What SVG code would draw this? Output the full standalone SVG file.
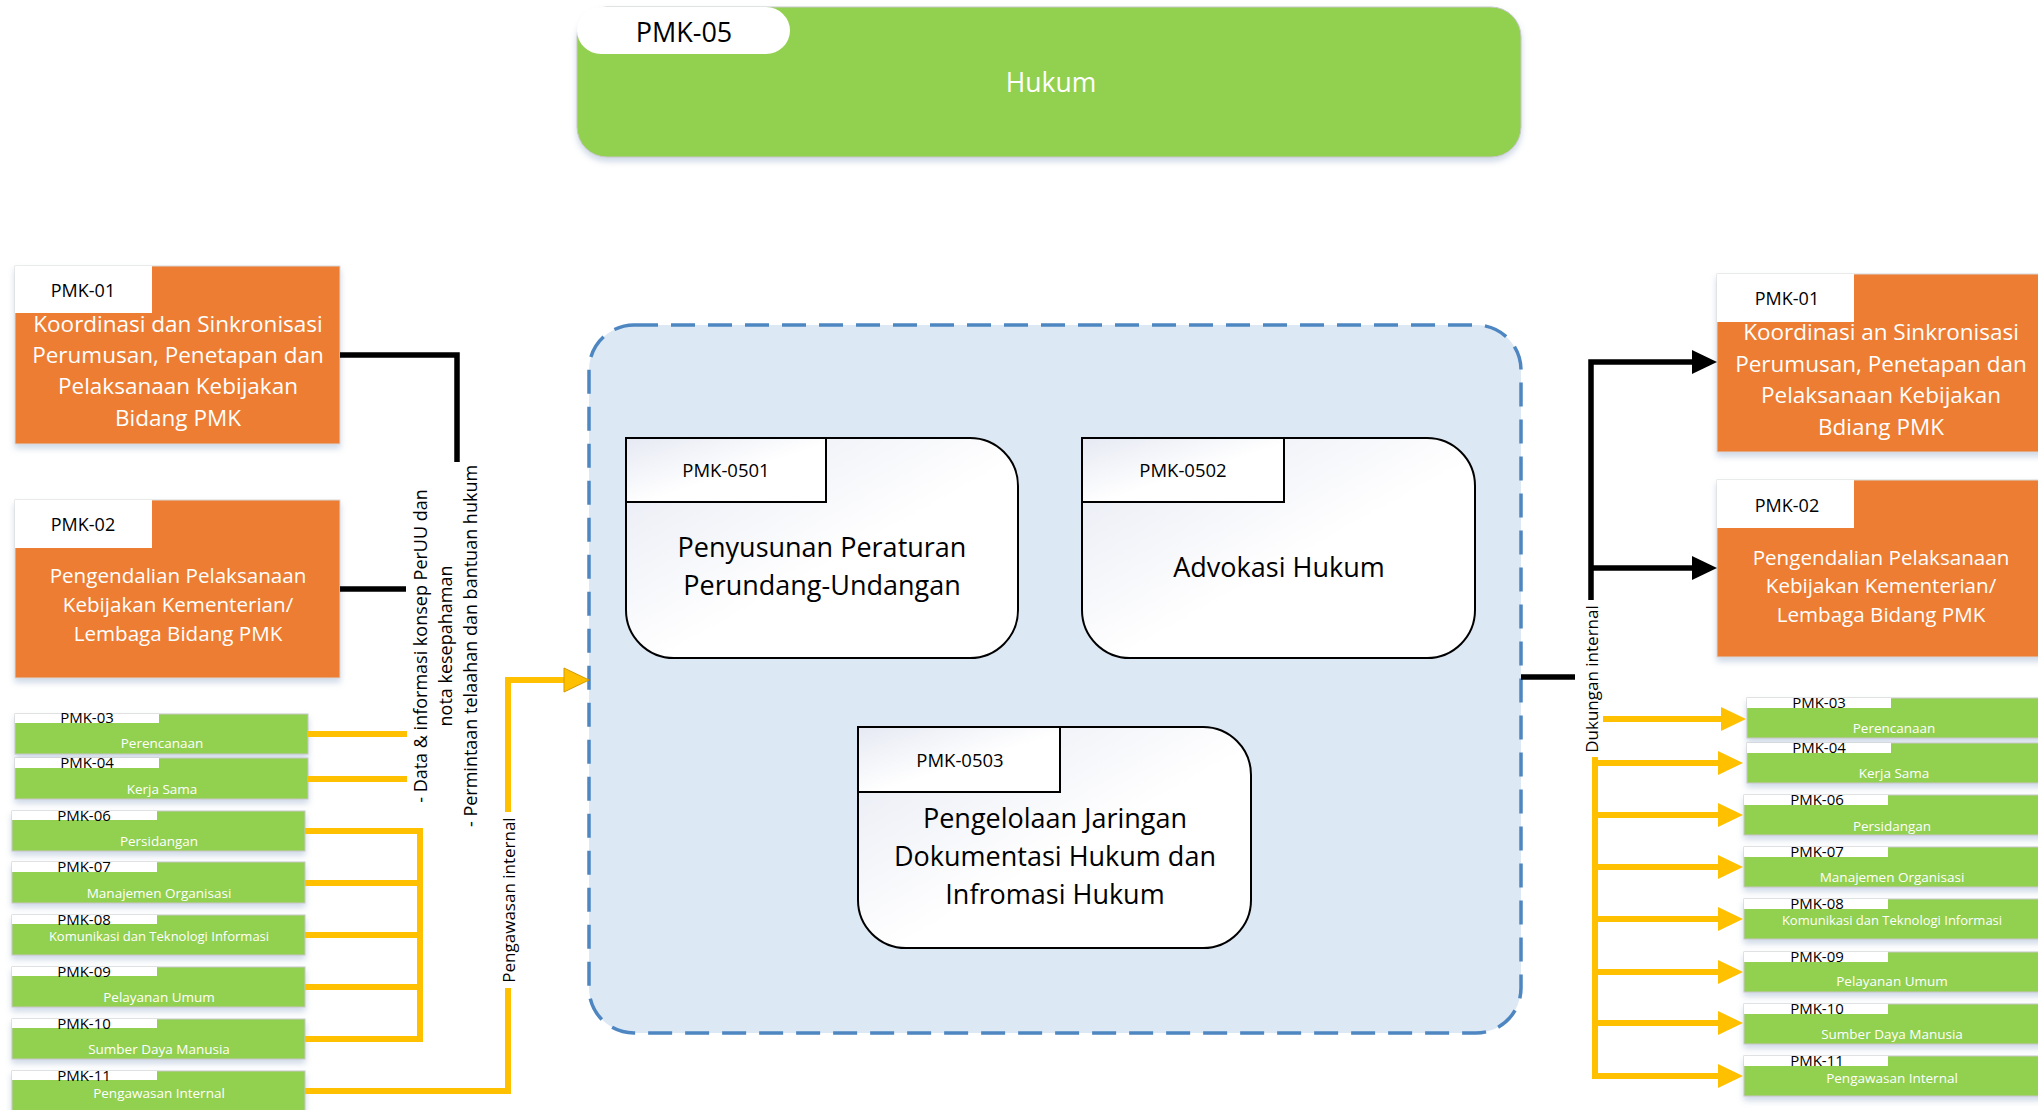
<svg xmlns="http://www.w3.org/2000/svg" width="2038" height="1110" viewBox="0 0 2038 1110">
<style>
text{font-family:"Open Sans","Liberation Sans",sans-serif;}
.w{fill:#fff}
.k{fill:#000}
.org{fill:#ED7D31;stroke:#D9D9D9;stroke-width:1}
.grn{fill:#92D050;stroke:#C8C8C8;stroke-width:1}
.tab{fill:#fff}
.yl{stroke:#FFC000;stroke-width:6;fill:none}
.bl{stroke:#000;stroke-width:5.5;fill:none}
.sub{fill:url(#gf);stroke:#000;stroke-width:2}
.big1{font-size:22.5px;text-anchor:middle}
.big2{font-size:20.6px;text-anchor:middle}
.lbl{font-size:15px;text-anchor:middle}
.lblb{font-size:18px;text-anchor:middle}
.sm{font-size:13.5px;text-anchor:middle}
.sm2{font-size:13px;text-anchor:middle}
.in{font-size:27px;text-anchor:middle}
.mid{text-anchor:middle}
</style>
<defs>
<filter id="sh" x="-5%" y="-10%" width="110%" height="140%"><feDropShadow dx="0" dy="4" stdDeviation="3" flood-color="#8FA8C8" flood-opacity="0.45"/></filter>
<linearGradient id="gf" x1="0" y1="0" x2="1" y2="1"><stop offset="0" stop-color="#E6E9F3"/><stop offset="0.55" stop-color="#FFFFFF"/></linearGradient>
<marker id="ay" markerUnits="userSpaceOnUse" viewBox="0 0 25 24" markerWidth="25" markerHeight="24" refX="0" refY="12" orient="auto"><path d="M0,0 L25,12 L0,24 Z" fill="#FFC000"/></marker>
<marker id="ay2" markerUnits="userSpaceOnUse" viewBox="-1 -1 27 26" markerWidth="27" markerHeight="26" refX="0" refY="12" orient="auto"><path d="M0,0 L25,12 L0,24 Z" fill="#FFC000" stroke="#D49A00" stroke-width="1"/></marker>
<marker id="ab" markerUnits="userSpaceOnUse" viewBox="0 0 25 24" markerWidth="25" markerHeight="24" refX="0" refY="12" orient="auto"><path d="M0,0 L25,12 L0,24 Z" fill="#000"/></marker>
</defs>
<rect width="2038" height="1110" fill="#fff"/>

<!-- Top -->
<g id="pmk05">
<rect x="577" y="7" width="944" height="150" rx="30" fill="#92D050" stroke="#C8C8C8" stroke-width="1" filter="url(#sh)"/>
<rect x="577" y="7" width="213" height="47" rx="24" fill="#fff"/>
<text x="684" y="42" font-size="27" class="k mid">PMK-05</text>
<text x="1051" y="92" font-size="26.5" class="w mid">Hukum</text>
</g>

<!-- Container -->
<g id="container">
<rect x="589" y="325" width="932" height="708" rx="45" fill="#DDE8F5" stroke="#4D86C1" stroke-width="3.5" stroke-dasharray="24 13"/>
</g>

<g id="pmk0501">
<path class="sub" d="M626,438 H970 A48,48 0 0 1 1018,486 V610 A48,48 0 0 1 970,658 H674 A48,48 0 0 1 626,610 Z"/>
<rect class="sub" x="626" y="438" width="200" height="64"/>
<text x="726" y="477" font-size="18.5" class="k mid">PMK-0501</text>
<text x="822" y="557" class="k in">Penyusunan Peraturan</text>
<text x="822" y="595" class="k in">Perundang-Undangan</text>
</g>

<g id="pmk0502">
<path class="sub" d="M1082,438 H1427 A48,48 0 0 1 1475,486 V610 A48,48 0 0 1 1427,658 H1130 A48,48 0 0 1 1082,610 Z"/>
<rect class="sub" x="1082" y="438" width="202" height="64"/>
<text x="1183" y="477" font-size="18.5" class="k mid">PMK-0502</text>
<text x="1279" y="577" class="k in">Advokasi Hukum</text>
</g>

<g id="pmk0503">
<path class="sub" d="M858,727 H1203 A48,48 0 0 1 1251,775 V900 A48,48 0 0 1 1203,948 H906 A48,48 0 0 1 858,900 Z"/>
<rect class="sub" x="858" y="727" width="202" height="65"/>
<text x="960" y="767" font-size="18.5" class="k mid">PMK-0503</text>
<text x="1055" y="828" class="k in">Pengelolaan Jaringan</text>
<text x="1055" y="866" class="k in">Dokumentasi Hukum dan</text>
<text x="1055" y="904" class="k in">Infromasi Hukum</text>
</g>

<!-- Left big -->
<g id="l-pmk01">
<rect class="org" x="15" y="266" width="325" height="178" filter="url(#sh)"/>
<rect class="tab" x="15" y="266" width="137" height="47"/>
<text x="83" y="297" class="lblb k">PMK-01</text>
<text x="178" y="332" class="big1 w">Koordinasi dan Sinkronisasi</text>
<text x="178" y="363" class="big1 w">Perumusan, Penetapan dan</text>
<text x="178" y="394" class="big1 w">Pelaksanaan Kebijakan</text>
<text x="178" y="426" class="big1 w">Bidang PMK</text>
</g>
<g id="l-pmk02">
<rect class="org" x="15" y="500" width="325" height="178" filter="url(#sh)"/>
<rect class="tab" x="15" y="500" width="137" height="48"/>
<text x="83" y="531" class="lblb k">PMK-02</text>
<text x="178" y="583" class="big2 w">Pengendalian Pelaksanaan</text>
<text x="178" y="612" class="big2 w">Kebijakan Kementerian/</text>
<text x="178" y="641" class="big2 w">Lembaga Bidang PMK</text>
</g>

<!-- Left small -->
<g id="l-pmk03"><rect class="grn" x="15" y="714" width="293" height="40" filter="url(#sh)"/><rect class="tab" x="15" y="714" width="144" height="9"/><text x="87" y="723" class="lbl k">PMK-03</text><text x="162" y="748" class="sm w">Perencanaan</text></g>
<g id="l-pmk04"><rect class="grn" x="15" y="758" width="293" height="41" filter="url(#sh)"/><rect class="tab" x="15" y="758" width="144" height="10"/><text x="87" y="768" class="lbl k">PMK-04</text><text x="162" y="794" class="sm w">Kerja Sama</text></g>
<g id="l-pmk06"><rect class="grn" x="12" y="811" width="293" height="40" filter="url(#sh)"/><rect class="tab" x="12" y="811" width="145" height="9"/><text x="84" y="821" class="lbl k">PMK-06</text><text x="159" y="846" class="sm w">Persidangan</text></g>
<g id="l-pmk07"><rect class="grn" x="12" y="862" width="293" height="41" filter="url(#sh)"/><rect class="tab" x="12" y="862" width="145" height="10"/><text x="84" y="872" class="lbl k">PMK-07</text><text x="159" y="898" class="sm w">Manajemen Organisasi</text></g>
<g id="l-pmk08"><rect class="grn" x="12" y="915" width="293" height="40" filter="url(#sh)"/><rect class="tab" x="12" y="915" width="145" height="9"/><text x="84" y="925" class="lbl k">PMK-08</text><text x="159" y="941" class="sm2 w">Komunikasi dan Teknologi Informasi</text></g>
<g id="l-pmk09"><rect class="grn" x="12" y="967" width="293" height="40" filter="url(#sh)"/><rect class="tab" x="12" y="967" width="145" height="9"/><text x="84" y="977" class="lbl k">PMK-09</text><text x="159" y="1002" class="sm w">Pelayanan Umum</text></g>
<g id="l-pmk10"><rect class="grn" x="12" y="1019" width="293" height="40" filter="url(#sh)"/><rect class="tab" x="12" y="1019" width="145" height="9"/><text x="84" y="1029" class="lbl k">PMK-10</text><text x="159" y="1054" class="sm w">Sumber Daya Manusia</text></g>
<g id="l-pmk11"><rect class="grn" x="12" y="1071" width="293" height="45" filter="url(#sh)"/><rect class="tab" x="12" y="1071" width="145" height="9"/><text x="84" y="1081" class="lbl k">PMK-11</text><text x="159" y="1098" class="sm w">Pengawasan Internal</text></g>

<!-- Right big -->
<g id="r-pmk01">
<rect class="org" x="1717" y="274" width="330" height="178" filter="url(#sh)"/>
<rect class="tab" x="1717" y="274" width="137" height="48"/>
<text x="1787" y="305" class="lblb k">PMK-01</text>
<text x="1881" y="340" class="big1 w">Koordinasi an Sinkronisasi</text>
<text x="1881" y="372" class="big1 w">Perumusan, Penetapan dan</text>
<text x="1881" y="403" class="big1 w">Pelaksanaan Kebijakan</text>
<text x="1881" y="435" class="big1 w">Bdiang PMK</text>
</g>
<g id="r-pmk02">
<rect class="org" x="1717" y="480" width="330" height="177" filter="url(#sh)"/>
<rect class="tab" x="1717" y="480" width="137" height="48"/>
<text x="1787" y="512" class="lblb k">PMK-02</text>
<text x="1881" y="565" class="big2 w">Pengendalian Pelaksanaan</text>
<text x="1881" y="593" class="big2 w">Kebijakan Kementerian/</text>
<text x="1881" y="622" class="big2 w">Lembaga Bidang PMK</text>
</g>

<!-- Right small -->
<g id="r-pmk03"><rect class="grn" x="1747" y="698" width="300" height="40" filter="url(#sh)"/><rect class="tab" x="1747" y="698" width="144" height="10"/><text x="1819" y="708" class="lbl k">PMK-03</text><text x="1894" y="733" class="sm w">Perencanaan</text></g>
<g id="r-pmk04"><rect class="grn" x="1747" y="743" width="300" height="40" filter="url(#sh)"/><rect class="tab" x="1747" y="743" width="144" height="10"/><text x="1819" y="753" class="lbl k">PMK-04</text><text x="1894" y="778" class="sm w">Kerja Sama</text></g>
<g id="r-pmk06"><rect class="grn" x="1744" y="795" width="303" height="40" filter="url(#sh)"/><rect class="tab" x="1744" y="795" width="144" height="10"/><text x="1817" y="805" class="lbl k">PMK-06</text><text x="1892" y="831" class="sm w">Persidangan</text></g>
<g id="r-pmk07"><rect class="grn" x="1744" y="847" width="303" height="40" filter="url(#sh)"/><rect class="tab" x="1744" y="847" width="144" height="10"/><text x="1817" y="857" class="lbl k">PMK-07</text><text x="1892" y="882" class="sm w">Manajemen Organisasi</text></g>
<g id="r-pmk08"><rect class="grn" x="1744" y="899" width="303" height="40" filter="url(#sh)"/><rect class="tab" x="1744" y="899" width="144" height="10"/><text x="1817" y="909" class="lbl k">PMK-08</text><text x="1892" y="925" class="sm2 w">Komunikasi dan Teknologi Informasi</text></g>
<g id="r-pmk09"><rect class="grn" x="1744" y="952" width="303" height="40" filter="url(#sh)"/><rect class="tab" x="1744" y="952" width="144" height="10"/><text x="1817" y="962" class="lbl k">PMK-09</text><text x="1892" y="986" class="sm w">Pelayanan Umum</text></g>
<g id="r-pmk10"><rect class="grn" x="1744" y="1004" width="303" height="40" filter="url(#sh)"/><rect class="tab" x="1744" y="1004" width="144" height="10"/><text x="1817" y="1014" class="lbl k">PMK-10</text><text x="1892" y="1039" class="sm w">Sumber Daya Manusia</text></g>
<g id="r-pmk11"><rect class="grn" x="1744" y="1056" width="303" height="40" filter="url(#sh)"/><rect class="tab" x="1744" y="1056" width="144" height="10"/><text x="1817" y="1066" class="lbl k">PMK-11</text><text x="1892" y="1083" class="sm w">Pengawasan Internal</text></g>

<!-- Connectors -->
<g id="connectors">
<path class="bl" d="M340,355 H457 V462"/>
<path class="bl" d="M340,589 H406"/>
<path class="yl" d="M308,734 H407"/>
<path class="yl" d="M308,779 H407"/>
<path class="yl" d="M305,831 H420 M305,883 H420 M305,935 H420 M305,987 H420 M305,1039 H420"/>
<path class="yl" d="M420,828 V1042"/>
<path class="yl" d="M305,1091 H508 V988"/>
<path class="yl" d="M508,812 V680 H564" marker-end="url(#ay2)"/>
<g font-size="18" fill="#000">
<text transform="translate(427,646) rotate(-90)" class="mid">- Data &amp; informasi konsep PerUU dan</text>
<text transform="translate(452,646) rotate(-90)" class="mid">nota kesepahaman</text>
<text transform="translate(477,646) rotate(-90)" class="mid">- Permintaan telaahan dan bantuan hukum</text>
</g>
<text transform="translate(515,900) rotate(-90)" class="mid" font-size="17">Pengawasan internal</text>

<path class="bl" d="M1521,677 H1575"/>
<path class="bl" d="M1591,600 V362 H1692" marker-end="url(#ab)"/>
<path class="bl" d="M1591,568 H1692" marker-end="url(#ab)"/>
<text transform="translate(1598,679) rotate(-90)" class="mid" font-size="17">Dukungan internal</text>
<path class="yl" d="M1603,719 H1721" marker-end="url(#ay)"/>
<path class="yl" d="M1595,757 V1079"/>
<path class="yl" d="M1595,763 H1718" marker-end="url(#ay)"/>
<path class="yl" d="M1595,815 H1718" marker-end="url(#ay)"/>
<path class="yl" d="M1595,867 H1718" marker-end="url(#ay)"/>
<path class="yl" d="M1595,919 H1718" marker-end="url(#ay)"/>
<path class="yl" d="M1595,972 H1718" marker-end="url(#ay)"/>
<path class="yl" d="M1595,1023 H1718" marker-end="url(#ay)"/>
<path class="yl" d="M1595,1076 H1718" marker-end="url(#ay)"/>
</g>
</svg>
